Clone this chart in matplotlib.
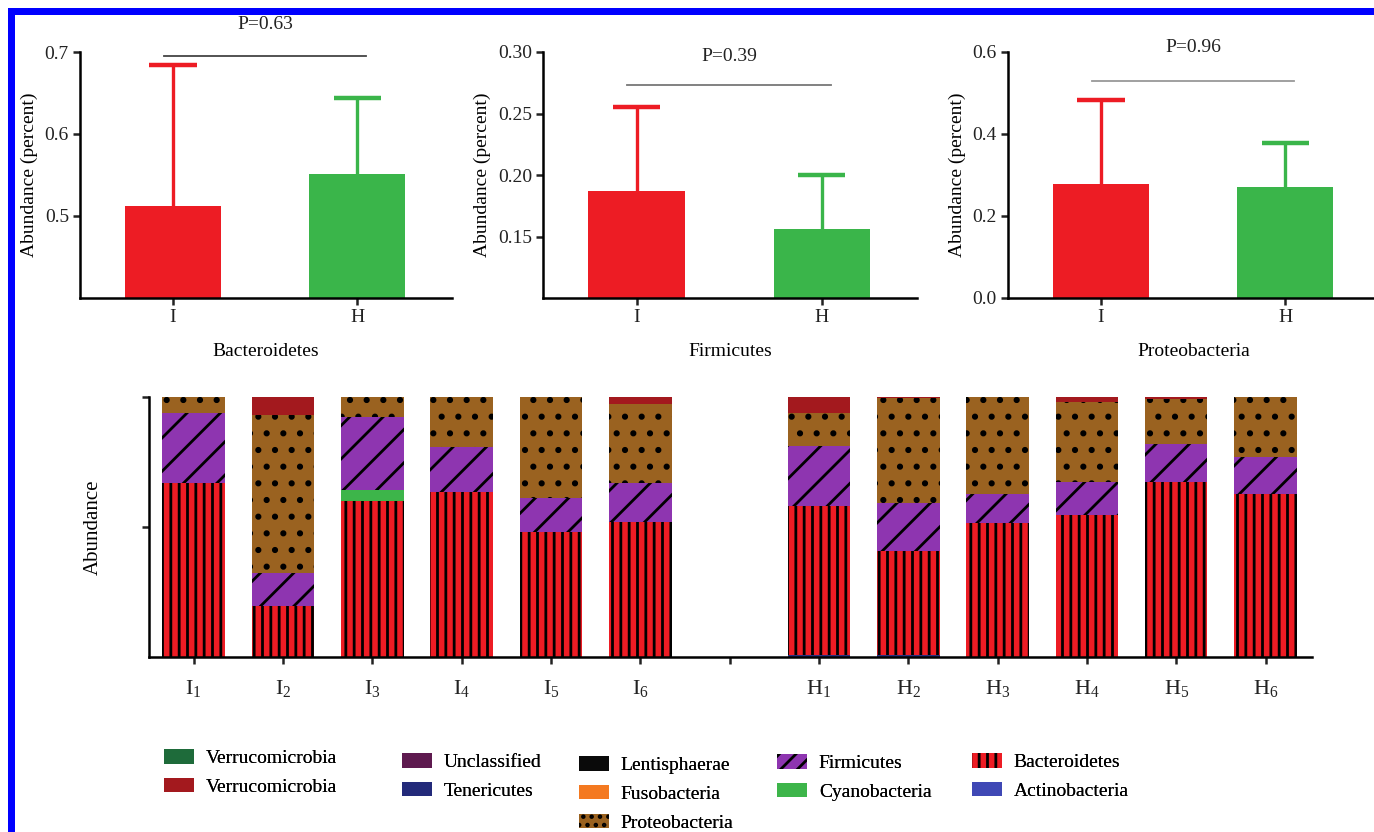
import numpy as np
import matplotlib
matplotlib.use("Agg")
import matplotlib.pyplot as plt
from matplotlib.patches import Patch, Rectangle

plt.rcParams['font.family'] = ['Liberation Serif', 'DejaVu Serif']
plt.rcParams['mathtext.fontset'] = 'custom'
plt.rcParams['mathtext.rm'] = 'Liberation Serif'
plt.rcParams['mathtext.it'] = 'Liberation Serif:italic'
plt.rcParams['hatch.linewidth'] = 2.0

# ---- top panels: group means with upper error bars ----
groups = ['I', 'H']
panel_names = ['Bacteroidetes', 'Firmicutes', 'Proteobacteria']
panel_means = [[0.512, 0.551], [0.187, 0.156], [0.278, 0.271]]
panel_errs = [[0.172, 0.093], [0.068, 0.044], [0.205, 0.107]]
panel_ylims = [(0.4, 0.7), (0.10, 0.30), (0.0, 0.6)]
panel_yticks = [[0.5, 0.6, 0.7], [0.15, 0.20, 0.25, 0.30], [0.0, 0.2, 0.4, 0.6]]
panel_ytick_labels = [['0.5', '0.6', '0.7'], ['0.15', '0.20', '0.25', '0.30'],
                      ['0.0', '0.2', '0.4', '0.6']]
p_values = ['P=0.63', 'P=0.39', 'P=0.96']
p_line_y = [0.695, 0.273, 0.529]
p_text_y = [0.733, 0.296, 0.61]
p_line_color = ['#444444', '#777777', '#999999']
group_colors = ['#ED1C24', '#3AB54A']

# ---- bottom panel: per-sample phylum composition ----
samples = ['I$_1$', 'I$_2$', 'I$_3$', 'I$_4$', 'I$_5$', 'I$_6$',
           'H$_1$', 'H$_2$', 'H$_3$', 'H$_4$', 'H$_5$', 'H$_6$']
actinobacteria = [0, 0, 0, 0, 0, 0, 0.006, 0.006, 0, 0, 0, 0]
bacteroidetes = [0.669, 0.196, 0.600, 0.635, 0.482, 0.520,
                 0.575, 0.402, 0.515, 0.546, 0.673, 0.627]
cyanobacteria = [0, 0, 0.042, 0, 0, 0, 0, 0, 0, 0, 0, 0]
firmicutes = [0.269, 0.127, 0.281, 0.173, 0.131, 0.149,
              0.231, 0.184, 0.112, 0.127, 0.146, 0.142]
proteobacteria = [0.062, 0.608, 0.077, 0.192, 0.387, 0.304,
                  0.126, 0.403, 0.373, 0.308, 0.173, 0.231]
verrucomicrobia = [0, 0.069, 0, 0, 0, 0.027, 0.062, 0.005, 0, 0.019, 0.008, 0]

stack_series = [actinobacteria, bacteroidetes, cyanobacteria, firmicutes,
                proteobacteria, verrucomicrobia]
stack_colors = ['#2A3080', '#ED1C24', '#3DB54A', '#8E35B0', '#9A6220', '#A3191E']
stack_hatches = [None, '||', None, '/', '.', None]

# legend columns (label, colour, hatch)
legend_columns = [
    [('Verrucomicrobia', '#1E6B3A', None), ('Verrucomicrobia', '#A3191E', None)],
    [('Unclassified', '#5E1A4F', None), ('Tenericutes', '#232A7A', None)],
    [('Lentisphaerae', '#0A0A0A', None), ('Fusobacteria', '#F47920', None),
     ('Proteobacteria', '#9A6220', '..')],
    [('Firmicutes', '#8E35B0', '//'), ('Cyanobacteria', '#3DB54A', None)],
    [('Bacteroidetes', '#ED1C24', '||'), ('Actinobacteria', '#3F48B5', None)],
]

W, H = 1374, 832
fig = plt.figure(figsize=(W / 100, H / 100), dpi=100)


def fx(px):
    return px / W


def fy(py):
    return 1 - py / H


# top panel frames (pixel bounds)
top_lefts = [80, 543, 1008]
top_rights = [452, 917, 1380]
for k in range(3):
    ax = fig.add_axes([fx(top_lefts[k]), fy(298), fx(top_rights[k] - top_lefts[k]),
                       fy(52) - fy(298)])
    x = np.arange(len(groups))
    means = np.array(panel_means[k])
    tops = means + np.array(panel_errs[k])
    # upper error bar only: stem + cap
    ax.vlines(x, means, tops, colors=group_colors, linewidth=2.4, zorder=1)
    ax.hlines(tops, x - 0.128, x + 0.128, colors=group_colors, linewidth=3.2,
              zorder=1)
    ax.bar(x, means, width=0.52, color=group_colors, zorder=2)
    ax.plot([-0.05, 1.05], [p_line_y[k]] * 2, color=p_line_color[k], lw=1.3,
            clip_on=False)
    ax.text(0.5, p_text_y[k], p_values[k], ha='center', va='center', fontsize=14,
            color='#222222', clip_on=False)
    ax.set_xlim(-0.505, 1.515)
    ax.set_ylim(*panel_ylims[k])
    ax.set_xticks(x)
    ax.set_xticklabels(groups, fontsize=14)
    ax.set_yticks(panel_yticks[k])
    ax.set_yticklabels(panel_ytick_labels[k], fontsize=14)
    ax.set_xlabel(panel_names[k], fontsize=14, labelpad=12)
    ax.set_ylabel('Abundance (percent)', fontsize=14, labelpad=5)
    for s in ['top', 'right']:
        ax.spines[s].set_visible(False)
    for s in ['left', 'bottom']:
        ax.spines[s].set_linewidth(1.8)
    ax.tick_params(direction='out', length=5, width=1.8, pad=3, colors='#222222')

# bottom stacked panel
axb = fig.add_axes([fx(149), fy(657), fx(1312 - 149), fy(397) - fy(657)])
xpos = np.array(list(range(6)) + list(range(7, 13)))
bottom = np.zeros(len(samples))
for vals, col, hat in zip(stack_series, stack_colors, stack_hatches):
    vals = np.array(vals)
    axb.bar(xpos, vals, width=0.70, bottom=bottom, color=col, hatch=hat,
            edgecolor='black', linewidth=0)
    bottom += vals
axb.set_xlim(-0.5, 12.52)
axb.set_ylim(0, 1)
tick_pos = list(xpos[:6]) + [6] + list(xpos[6:])
tick_lab = samples[:6] + [''] + samples[6:]
axb.set_xticks(tick_pos)
axb.set_xticklabels(tick_lab, fontsize=16)
axb.set_yticks([0.5, 1.0])
axb.set_yticklabels([])
axb.set_ylabel('Abundance', fontsize=15, labelpad=18)
for s in ['top', 'right']:
    axb.spines[s].set_visible(False)
for s in ['left', 'bottom']:
    axb.spines[s].set_linewidth(1.8)
axb.tick_params(direction='out', length=5, width=1.8, pad=10, colors='#222222')

# legend, one block per column
leg_x = [164, 402, 579, 777, 972]
leg_top = [749, 753, 756, 754, 753]
for c, items in enumerate(legend_columns):
    handles = [Patch(facecolor=col, edgecolor='black', hatch=hat, linewidth=0)
               for _, col, hat in items]
    labels = [lab for lab, _, _ in items]
    leg = fig.legend(handles, labels, loc='upper left',
                     bbox_to_anchor=(fx(leg_x[c]), fy(leg_top[c])),
                     frameon=False, fontsize=14, borderpad=0, borderaxespad=0,
                     handlelength=1.55, handleheight=0.78, handletextpad=0.6,
                     labelspacing=0.55)
    fig.add_artist(leg)

# blue frame along top and left edges
fig.add_artist(Rectangle((fx(8), fy(832)), fx(7), fy(8) - fy(832), color='#0000FF',
                         transform=fig.transFigure, lw=0))
fig.add_artist(Rectangle((fx(8), fy(15)), fx(W - 8), fy(8) - fy(15), color='#0000FF',
                         transform=fig.transFigure, lw=0))

fig.savefig('out.png', dpi=100)
